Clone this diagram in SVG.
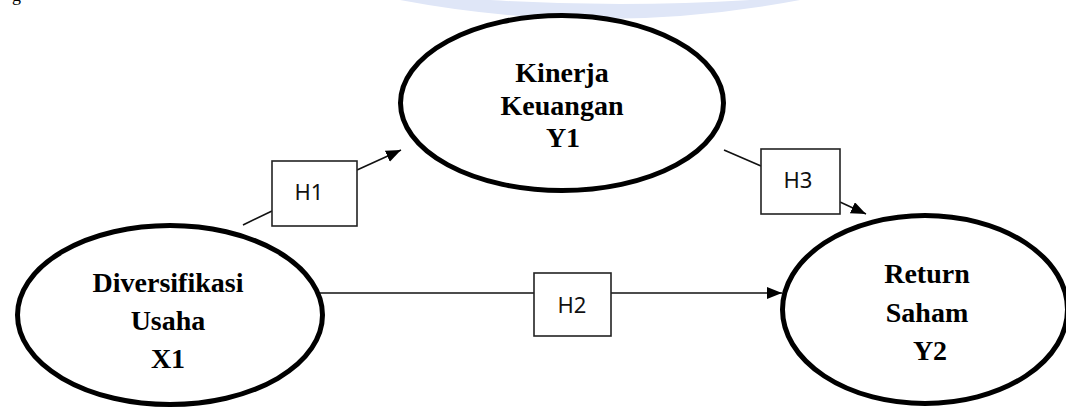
<svg xmlns="http://www.w3.org/2000/svg" width="1066" height="407" viewBox="0 0 1066 407">
<style>
.node{fill:#fff;stroke:#000;stroke-width:5}
.lbl{font-family:"Liberation Serif","Times New Roman",serif;font-weight:bold;font-size:28px;fill:#000;text-anchor:middle}
.hbox{fill:#fff;stroke:#222;stroke-width:1.6}
.htxt{font-family:"Noto Sans","Open Sans",sans-serif;font-size:22px;fill:#111;text-anchor:middle}
.conn{fill:none;stroke:#111;stroke-width:1.6}
</style>
<defs>
<marker id="arr" markerUnits="userSpaceOnUse" markerWidth="16" markerHeight="14" refX="15" refY="6" orient="auto">
<path d="M0,0 L15,6 L0,12 Z" fill="#000"/>
</marker>
</defs>
<rect width="1066" height="407" fill="#fff"/>
<path d="M400,0 Q600,38 800,0 L750,0 Q620,8 490,0 Z" fill="#dfe6f7"/>
<text x="12" y="0.5" font-family="Liberation Serif, serif" font-size="18" fill="#000">g</text>
<g id="connectors">
<line class="conn" x1="243" y1="225" x2="272" y2="211"/>
<line class="conn" x1="357" y1="170" x2="401" y2="150" marker-end="url(#arr)"/>
<line class="conn" x1="312" y1="293" x2="534" y2="293"/>
<line class="conn" x1="611" y1="293" x2="782" y2="293" marker-end="url(#arr)"/>
<line class="conn" x1="724" y1="150" x2="761" y2="166"/>
<line class="conn" x1="840" y1="202" x2="866" y2="214" marker-end="url(#arr)"/>
</g>
<g id="node-y1">
<ellipse class="node" cx="562" cy="103" rx="161.5" ry="87.5"/>
<text class="lbl" x="562" y="82">Kinerja</text>
<text class="lbl" x="562" y="115">Keuangan</text>
<text class="lbl" x="563" y="147">Y1</text>
</g>
<g id="node-x1">
<ellipse class="node" cx="170" cy="315" rx="152.5" ry="89.5"/>
<text class="lbl" x="168" y="292">Diversifikasi</text>
<text class="lbl" x="168" y="330">Usaha</text>
<text class="lbl" x="168" y="368">X1</text>
</g>
<g id="node-y2">
<ellipse class="node" cx="925" cy="309.5" rx="142.5" ry="94"/>
<text class="lbl" x="927" y="283">Return</text>
<text class="lbl" x="927" y="322">Saham</text>
<text class="lbl" x="930" y="360">Y2</text>
</g>
<g id="h1">
<rect class="hbox" x="272" y="161" width="85" height="65"/>
<text class="htxt" x="309" y="200">H1</text>
</g>
<g id="h2">
<rect class="hbox" x="534" y="273" width="77" height="63"/>
<text class="htxt" x="572" y="313">H2</text>
</g>
<g id="h3">
<rect class="hbox" x="761" y="149" width="79" height="65"/>
<text class="htxt" x="798" y="188">H3</text>
</g>
</svg>
